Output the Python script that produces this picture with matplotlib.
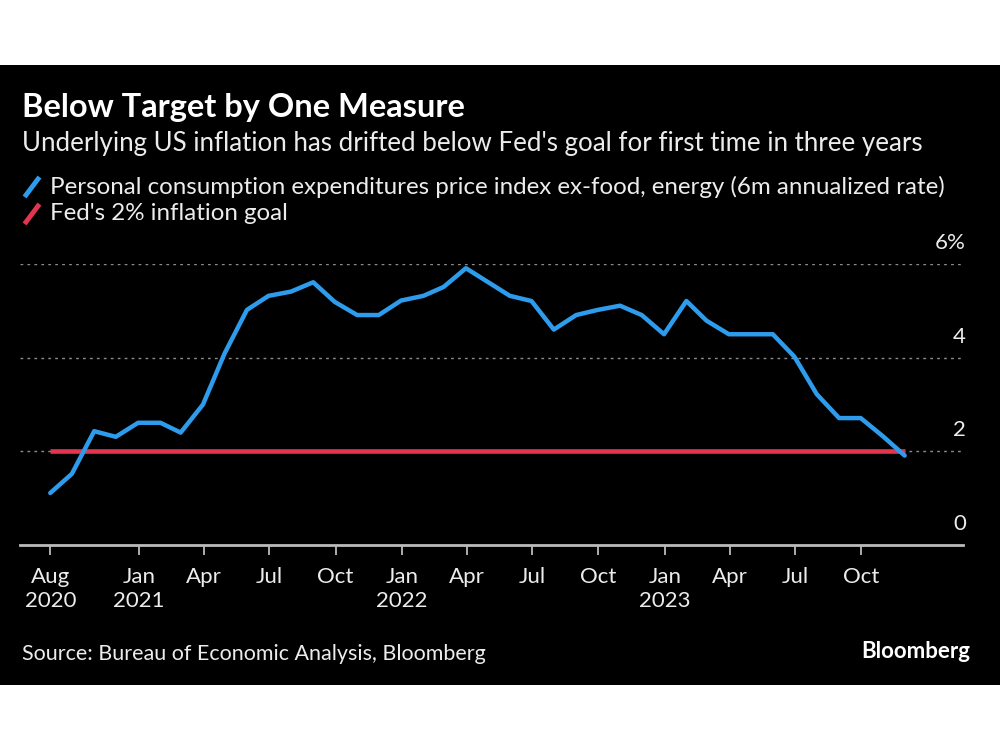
import numpy as np
import pandas as pd
import matplotlib
matplotlib.use("Agg")
import matplotlib.pyplot as plt
from matplotlib.lines import Line2D
from matplotlib.patches import Rectangle

# monthly core PCE, 6m annualized rate, Aug 2020 - Nov 2023
pce = [1.11, 1.52, 2.43, 2.31, 2.61, 2.61, 2.40, 3.00, 4.09, 5.02,
       5.32, 5.41, 5.61, 5.19, 4.91, 4.91, 5.22, 5.32, 5.51, 5.91,
       5.62, 5.32, 5.21, 4.60, 4.91, 5.02, 5.11, 4.91, 4.50, 5.21,
       4.79, 4.50, 4.50, 4.50, 4.02, 3.22, 2.71, 2.71, 2.32, 1.91]
fed_goal = 2.0

dates = pd.date_range("2020-09-01", periods=len(pce), freq="MS") - pd.Timedelta(days=1)

tick_dates = ["2020-08-31", "2021-01-01", "2021-04-01", "2021-07-01", "2021-10-01",
              "2022-01-01", "2022-04-01", "2022-07-01", "2022-10-01",
              "2023-01-01", "2023-04-01", "2023-07-01", "2023-10-01"]
tick_labels = ["Aug\n2020", "Jan\n2021", "Apr", "Jul", "Oct", "Jan\n2022", "Apr", "Jul", "Oct",
               "Jan\n2023", "Apr", "Jul", "Oct"]
y_ticks = [0, 2, 4, 6]
y_labels = ["0", "2", "4", "6%"]

plt.rcParams["font.family"] = ["Lato", "DejaVu Sans"]

blue = "#2e9cec"
red = "#e3354f"
txt = "#ececec"

fig = plt.figure(figsize=(10, 7.5), dpi=100)
fig.patch.set_facecolor("white")
# black card between the white bands
fig.add_artist(Rectangle((0, 65 / 750), 1, 620 / 750, transform=fig.transFigure,
                         facecolor="black", edgecolor="none", zorder=0))

ax = fig.add_axes([20 / 1000, (750 - 545) / 750, 943 / 1000, (545 - 264) / 750])
ax.set_facecolor("black")

ax.plot(dates, [fed_goal] * len(dates), color=red, lw=3.3, solid_capstyle="butt", zorder=3)
ax.plot(dates, pce, color=blue, lw=3.2, solid_capstyle="round", solid_joinstyle="round", zorder=4)

ax.set_ylim(0, 6)
ax.set_xlim(pd.Timestamp("2020-07-20"), pd.Timestamp("2024-02-19"))

for v in y_ticks[1:]:
    ax.axhline(v, color="#8a8a8a", lw=1.0, ls=(0, (2, 3)), zorder=1)
ax.set_yticks([])
for v, lab in zip(y_ticks, y_labels):
    ax.annotate(lab, xy=(1.0, v), xycoords=("axes fraction", "data"),
                xytext=(2, 8), textcoords="offset points",
                ha="right", va="bottom", color=txt, fontsize=16)

ax.set_xticks([pd.Timestamp(d) for d in tick_dates])
ax.set_xticklabels(tick_labels, color=txt, fontsize=16, linespacing=1.25)
ax.tick_params(axis="x", length=7, width=1.3, color="#bbbbbb", pad=9)

for s in ["top", "right", "left"]:
    ax.spines[s].set_visible(False)
ax.spines["bottom"].set_color("#bbbbbb")
ax.spines["bottom"].set_linewidth(2)

# titles
fig.text(22 / 1000, 1 - 108 / 750, "Below Target by One Measure", color="white",
         fontsize=23.5, fontweight="bold", va="center", ha="left")
fig.text(22 / 1000, 1 - 143 / 750,
         "Underlying US inflation has drifted below Fed's goal for first time in three years",
         color=txt, fontsize=18.6, va="center", ha="left")

# legend
legend_items = [("Personal consumption expenditures price index ex-food, energy (6m annualized rate)", blue),
                ("Fed's 2% inflation goal", red)]
for k, (lab, col) in enumerate(legend_items):
    yc = 187 + 27 * k
    fig.add_artist(Line2D([26 / 1000, 38 / 1000], [1 - (yc + 8) / 750, 1 - (yc - 8) / 750],
                          transform=fig.transFigure, color=col, lw=3.5))
    fig.text(50 / 1000, 1 - yc / 750, lab, color=txt, fontsize=17.4, va="center", ha="left")

fig.text(22 / 1000, 1 - 654 / 750, "Source: Bureau of Economic Analysis, Bloomberg",
         color=txt, fontsize=15.5, va="center", ha="left")
fig.text(970 / 1000, 1 - 651 / 750, "Bloomberg", color="white", fontsize=16,
         fontweight="bold", va="center", ha="right")

fig.savefig("out.png", dpi=100, facecolor=fig.get_facecolor())
